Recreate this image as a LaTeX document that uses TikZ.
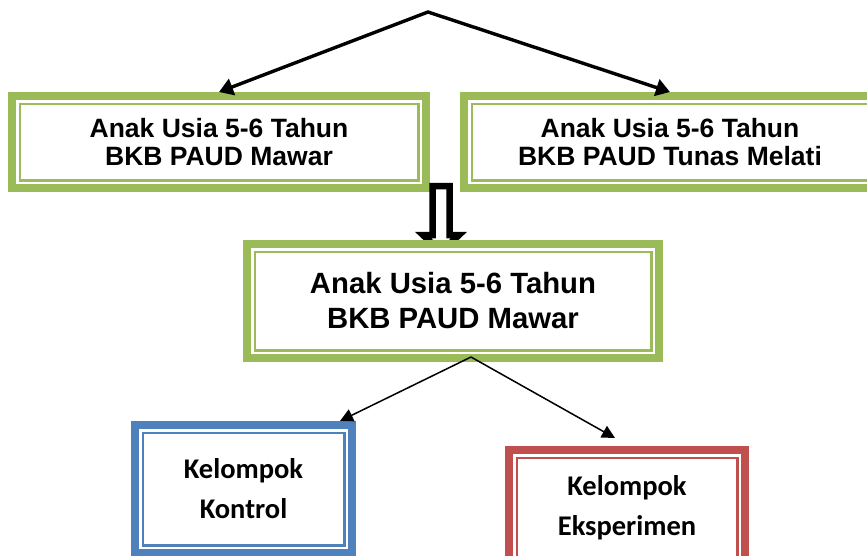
\documentclass[tikz,border=0pt]{standalone}
\usepackage{fontspec}
\setmainfont{Liberation Sans}
\newfontfamily\calibri{Carlito}
\usetikzlibrary{arrows.meta,calc}
\definecolor{hijau}{HTML}{9BBB59}
\definecolor{biru}{HTML}{4F81BD}
\definecolor{merah}{HTML}{C0504D}

\begin{document}
\begin{tikzpicture}[x=1pt, y=-1pt,
  kotak/.style={draw=#1, line width=2.5pt, fill=white, align=center, inner sep=0pt, outer sep=11.75pt,
    preaction={draw=#1, line width=23.5pt}, preaction={draw=white, line width=7.5pt}},
  judul/.style={font=\bfseries\fontsize{26.5}{28}\selectfont},
  judulbesar/.style={font=\bfseries\fontsize{29.3}{35}\selectfont},
  kelompok/.style={font=\calibri\bfseries\fontsize{28.5}{40}\selectfont}]
  \useasboundingbox (0,0) rectangle (867,555);

  % Populasi
  \coordinate (top) at (428,12);
  \node[kotak=hijau, judul, minimum width=398.5pt, minimum height=76.5pt] (mawar) at (219,142) {Anak Usia 5-6 Tahun\\BKB PAUD Mawar};
  \node[kotak=hijau, judul, minimum width=396.5pt, minimum height=76.5pt] (melati) at (670,142) {Anak Usia 5-6 Tahun\\BKB PAUD Tunas Melati};
  \draw[{Triangle[length=14pt,width=17pt]}-{Triangle[length=14pt,width=17pt]}, line width=3.4pt] (mawar.north) -- (top) -- (melati.north);

  % Sampel
  \draw[line width=6.5pt, fill=white, line join=miter] (432.5,186) -- (449.5,186) -- (449.5,235) -- (459,235)
    -- (441,252) -- (423,235) -- (432.5,235) -- cycle;
  \node[kotak=hijau, judulbesar, minimum width=396.5pt, minimum height=98.5pt] (sampel) at (453,301) {Anak Usia 5-6 Tahun\\BKB PAUD Mawar};

  % Kelompok
  \node[kotak=biru, kelompok, minimum width=201.5pt, minimum height=112.5pt] (kontrol) at (243.5,489) {Kelompok\\Kontrol};
  \node[kotak=merah, kelompok, minimum width=220.5pt, minimum height=100.5pt] (eksperimen) at (627,508) {Kelompok\\Eksperimen};
  \draw[-{Triangle[length=13pt,width=13pt]}, line width=1.5pt] ($(sampel.south)+(18,-5)$) -- ($(kontrol.north east)+(-16,0)$);
  \draw[-{Triangle[length=13pt,width=13pt]}, line width=1.5pt] ($(sampel.south)+(18,-5)$) -- ($(eksperimen.north)+(-12,-8)$);
\end{tikzpicture}
\end{document}
